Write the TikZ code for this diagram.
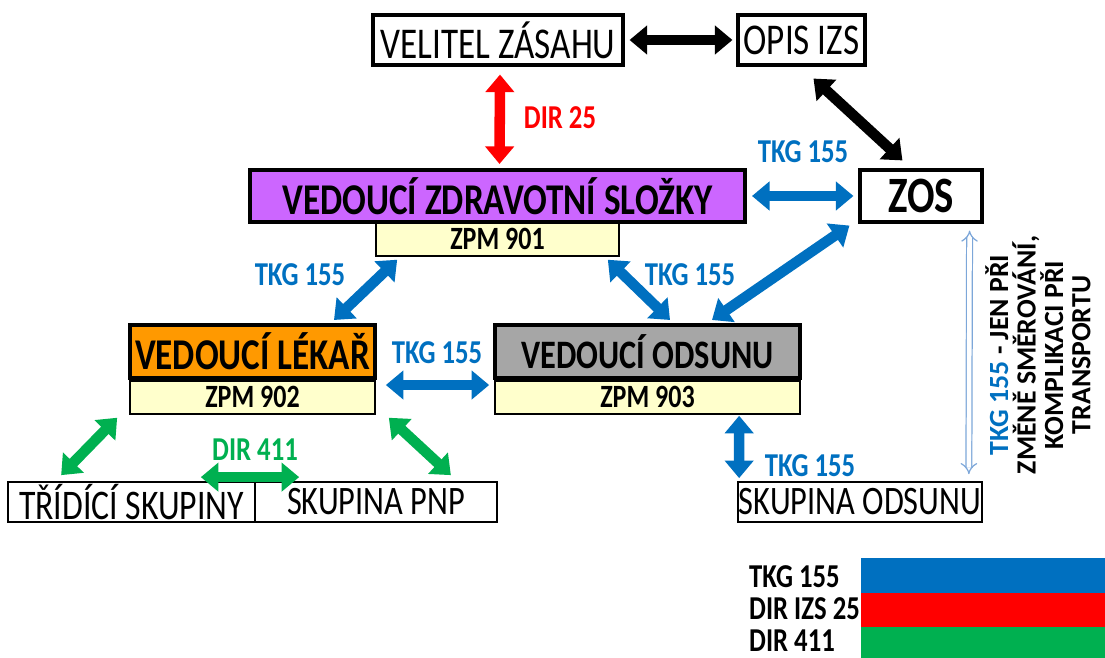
\documentclass[tikz,border=0pt]{standalone}
\usepackage{fontspec}
\setmainfont{Carlito}[FakeStretch=0.8]
\newfontfamily\notefont{Carlito}
\usetikzlibrary{arrows.meta,calc}
\definecolor{tkgblue}{HTML}{0070C0}
\definecolor{dirred}{HTML}{FF0000}
\definecolor{dirgreen}{HTML}{00B050}
\definecolor{boxviolet}{HTML}{CC66FF}
\definecolor{boxorange}{HTML}{FF9900}
\definecolor{boxgray}{HTML}{A6A6A6}
\definecolor{boxyellow}{HTML}{FFFFCC}
\definecolor{thinblue}{HTML}{7DA7D9}
\begin{document}
\begin{tikzpicture}[x=0.02cm, y=-0.02cm,
    plainbox/.style={draw, line width=1pt, inner sep=0pt, font=\fontsize{23}{26}\selectfont},
    headbox/.style={draw, line width=1.8pt, inner sep=0pt, font=\fontsize{25}{28}\selectfont},
    chiefbox/.style={draw, line width=2.3pt, inner sep=0pt, font=\bfseries\fontsize{25}{28}\selectfont},
    zpmbox/.style={draw, line width=1pt, fill=boxyellow, inner sep=0pt, minimum height=0.66cm, font=\bfseries\fontsize{18.5}{21}\selectfont},
    fat/.style={line width=6pt, {Triangle[width=16pt,length=10pt]}-{Triangle[width=16pt,length=10pt]}},
    tkg/.style={fat, tkgblue},
    lbl/.style={font=\bfseries\fontsize{19}{22}\selectfont}]
  \useasboundingbox (0,0) rectangle (1105,658);
  % top row
  \node[headbox, minimum width=5cm, minimum height=1cm] (vz) at (498,40) {VELITEL ZÁSAHU};
  \node[headbox, minimum width=2.54cm, minimum height=1cm] (opis) at (801.5,40) {OPIS IZS};
  % middle row
  \node[chiefbox, fill=boxviolet, minimum width=9.9cm, minimum height=1.04cm] (vzs) at (497.5,196) {VEDOUCÍ ZDRAVOTNÍ SLOŽKY};
  \node[zpmbox, minimum width=4.86cm, anchor=north] (zpm1) at (vzs.south |- 0,222) {ZPM 901};
  \node[headbox, font=\bfseries\fontsize{29}{32}\selectfont, minimum width=2.44cm, minimum height=1.04cm] (zos) at (921,196) {ZOS};
  % lower row
  \node[chiefbox, fill=boxorange, minimum width=4.9cm, minimum height=1.06cm] (vl) at (252.5,351.5) {VEDOUCÍ LÉKAŘ};
  \node[zpmbox, minimum width=4.9cm, anchor=north] (zpm2) at (vl.south) {ZPM 902};
  \node[chiefbox, fill=boxgray, minimum width=6.1cm, minimum height=1.06cm, font=\bfseries\fontsize{23}{26}\selectfont] (vo) at (647.5,351.5) {VEDOUCÍ ODSUNU};
  \node[zpmbox, minimum width=6.1cm, anchor=north] (zpm3) at (vo.south) {ZPM 903};
  % groups
  \node[plainbox, font=\fontsize{24}{27}\selectfont, minimum width=4.94cm, minimum height=0.8cm] (ts) at (131.5,502) {TŘÍDÍCÍ SKUPINY};
  \node[plainbox, minimum width=4.84cm, minimum height=0.8cm] (pnp) at (376,502) {SKUPINA PNP};
  \node[plainbox, minimum width=4.88cm, minimum height=0.8cm] (so) at (860,502) {SKUPINA ODSUNU};
  % connectors
  \draw[fat] ($(vz.east)+(5,0)$) -- ($(opis.west)+(-4,0)$);
  \draw[fat] ($(opis.south)+(12,12)$) -- ($(zos.north west)+(44,-8)$);
  \draw[fat, dirred] ($(vz.south)+(2,8)$) -- ($(vzs.north)+(2,-4)$);
  \node[lbl, dirred] (l25) at (560,118) {DIR 25};
  \draw[tkg] ($(vzs.east)+(5,0)$) -- ($(zos.west)+(-5,0)$);
  \node[lbl, tkgblue] (l1) at (803,152) {TKG 155};
  \draw[tkg] ($(zpm1.south west)+(22,3)$) -- ($(vl.north east)+(-43,-3)$);
  \node[lbl, tkgblue] (l2) at (300,275) {TKG 155};
  \draw[tkg] ($(zpm1.south east)+(-12,3)$) -- ($(vo.north west)+(177,-3)$);
  \node[lbl, tkgblue] (l3) at (690,275) {TKG 155};
  \draw[tkg] ($(zos.south west)+(-9,2)$) -- ($(vo.north west)+(219,-3)$);
  \draw[tkg] ($(zpm2.north east)+(10,5)$) -- ($(zpm3.north west)+(-5,5)$);
  \node[lbl, tkgblue] (l4) at (437,353) {TKG 155};
  \draw[tkg] ($(zpm3.south west)+(245,1)$) -- ($(so.north west)+(2,-3)$);
  \node[lbl, tkgblue] (l5) at (810,466) {TKG 155};
  \draw[thinblue, line width=0.7pt, double, double distance=2.6pt, {Implies}-{Implies}] ($(zos.south east)+(-14,7)$) -- ($(so.north east)+(-14,-7)$);
  \node[rotate=90, align=center, inner sep=0pt, font=\notefont\bfseries\fontsize{15.8}{15.6}\selectfont] (note) at (1038,355) {{\color{tkgblue}TKG 155} - JEN PŘI\\ZMĚNĚ SMĚROVÁNÍ,\\KOMPLIKACI PŘI\\TRANSPORTU};
  \draw[fat, dirgreen] ($(zpm2.south west)+(-12,3)$) -- ($(ts.north west)+(54,-6)$);
  \draw[fat, dirgreen] ($(zpm2.south east)+(13,3)$) -- ($(pnp.north east)+(-47,-6)$);
  \draw[fat, dirgreen] ($(ts.north east)+(-55,-4)$) -- ($(pnp.north west)+(45,-4)$);
  \node[lbl, dirgreen] (l411) at (255,450) {DIR 411};
  % legend
  \fill[tkgblue] (861,558) rectangle (1105,593);
  \fill[dirred] (861,593) rectangle (1105,627);
  \fill[dirgreen] (861,627) rectangle (1105,658);
  \node[lbl, anchor=west] (k1) at (743,577) {TKG 155};
  \node[lbl, anchor=west] (k2) at (743,609) {DIR IZS 25};
  \node[lbl, anchor=west] (k3) at (743,641) {DIR 411};
\end{tikzpicture}
\end{document}
